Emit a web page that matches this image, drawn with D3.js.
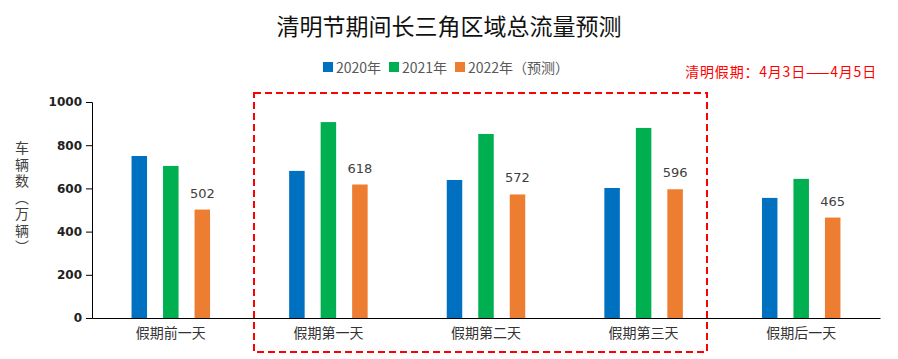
<!DOCTYPE html>
<html><head><meta charset="utf-8">
<script src="https://cdn.jsdelivr.net/npm/d3@7"></script>
<style>body{margin:0;background:#fff;font-family:"Noto Sans CJK SC","Noto Sans",sans-serif;}</style>
</head><body><svg id="c" width="898" height="359"></svg>
<script>
const categories = ["假期前一天","假期第一天","假期第二天","假期第三天","假期后一天"];
const seriesNames = ["2020年","2021年","2022年（预测）"];
const s2020 = [750, 681, 639, 602, 556];
const s2021 = [704, 907, 852, 880, 644];
const s2022 = [502, 618, 572, 596, 465];
const yTicks = [0,200,400,600,800,1000];
const colors = ["#0070C0","#00B050","#ED7D31"];
const series = [s2020, s2021, s2022];

const svg = d3.select("#c");
const font = '"Noto Sans CJK SC","Noto Sans",sans-serif';
const x = d3.scaleBand().domain(categories).range([92, 880]);
const y = d3.scaleLinear().domain([0,1000]).range([318, 102]);
const barW = 15.5, step = 31.5;

svg.append("text").attr("x",449).attr("y",35).attr("text-anchor","middle")
  .attr("font-size",23).attr("font-family",font).attr("fill","#111").attr("font-weight","normal")
  .text("清明节期间长三角区域总流量预测");

// legend
const lg = svg.append("g");
const lx = [323, 389, 455];
seriesNames.forEach((n,i)=>{
  lg.append("rect").attr("x",lx[i]).attr("y",62).attr("width",10).attr("height",10).attr("fill",colors[i]);
  lg.append("text").attr("x",lx[i]+13).attr("y",73).attr("font-size",14).attr("font-family",font)
    .attr("fill","#595959").text(n);
});
svg.append("text").attr("x",877).attr("y",77).attr("text-anchor","end").attr("font-size",14)
  .attr("letter-spacing",0.8)
  .attr("font-family",font).attr("fill","#FF0000").text("清明假期：4月3日——4月5日");

// y axis
const ya = svg.append("g").attr("transform","translate(92,0)")
  .call(d3.axisLeft(y).tickValues(yTicks).tickFormat(d3.format("d")).tickSize(6).tickPadding(4));
ya.select(".domain").attr("stroke","#000").attr("stroke-width",1);
ya.selectAll(".tick line").attr("stroke","#000");
ya.selectAll("text").attr("font-size",12).attr("font-weight","bold").attr("font-family","DejaVu Sans, sans-serif").attr("fill","#222");

// x axis
const xa = svg.append("g").attr("transform","translate(0,318)")
  .call(d3.axisBottom(x).tickSize(0).tickPadding(10));
xa.select(".domain").attr("stroke","#000").attr("stroke-width",1.2);
xa.selectAll("text").attr("font-size",14).attr("font-family",font).attr("fill","#333");

// bars
series.forEach((s,i)=>{
  svg.append("g").selectAll("rect").data(s).join("rect")
    .attr("x",(d,j)=>x(categories[j]) + x.bandwidth()/2 - barW/2 + (i-1)*step)
    .attr("y",d=>y(d)).attr("width",barW).attr("height",d=>y(0)-y(d)).attr("fill",colors[i]);
});
svg.append("g").selectAll("text").data(s2022).join("text")
  .attr("x",(d,j)=>x(categories[j]) + x.bandwidth()/2 + step)
  .attr("y",d=>y(d)-12).attr("text-anchor","middle").attr("font-size",13)
  .attr("font-family","DejaVu Sans, sans-serif").attr("fill","#404040").text(d=>d);

// y label vertical
svg.append("text").attr("x",22).attr("y",141)
  .style("writing-mode","vertical-rl").attr("letter-spacing",2.5)
  .attr("font-size",14).attr("font-family",font).attr("fill","#404040").text("车辆数（万辆）");

// dashed highlight box
svg.append("rect").attr("x",254).attr("y",93).attr("width",453).attr("height",259)
  .attr("fill","none").attr("stroke","#FF0000").attr("stroke-width",2).attr("stroke-dasharray","7,4");
</script></body></html>
